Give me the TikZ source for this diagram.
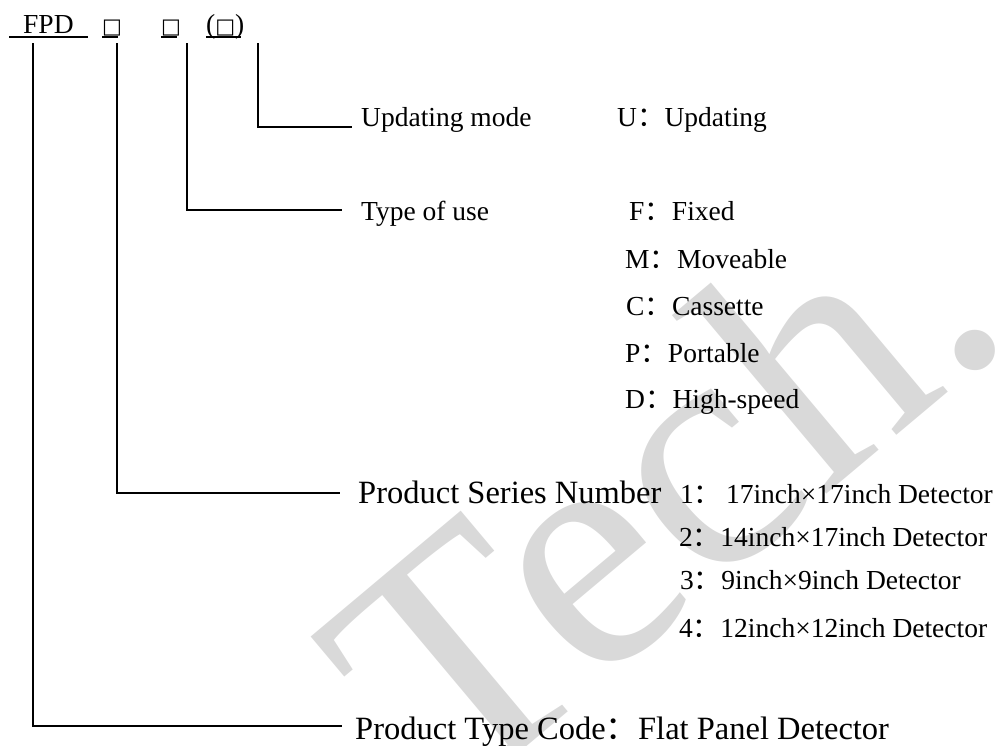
\documentclass[tikz,border=0pt]{standalone}
\usepackage{fontspec}
\setmainfont{Liberation Serif}
\newfontfamily\cjk{Noto Sans CJK SC}
\newfontfamily\symf{DejaVu Sans}
\newcommand{\fc}{{\cjk ：}}
\newcommand{\sqbox}{{\symf\fontsize{21}{22}\selectfont □}}
\tikzset{
  sm/.style={inner sep=0pt, anchor=base west, font=\fontsize{27.5}{30}\selectfont},
  bg/.style={inner sep=0pt, anchor=base west, font=\fontsize{32.5}{36}\selectfont},
  ln/.style={line width=1.8pt},
  ul/.style={line width=1.6pt},
  wm/.style={inner sep=0pt, text=black!15, font=\fontsize{340}{340}\selectfont}
}
\begin{document}
\begin{tikzpicture}[x=1pt,y=-1pt]
\useasboundingbox (0,0) rectangle (1002,745);
% watermark
\begin{scope}
\clip (0,0) rectangle (1002,745);
\node[wm, rotate=40, anchor=base east] (wmk) at (1017,335) {Tech.};
\end{scope}
% header
\node[sm] (fpd) at (23,33) {FPD};
\node[sm] (s1) at (102,33) {\sqbox};
\node[sm] (s2) at (161,33) {\sqbox};
\node[sm] (s3) at (206,33) {(\sqbox)};
\draw[ul] (9,37) -- (88,37);
\draw[ul] (102,37) -- (118,37);
\draw[ul] (161,37) -- (177,37);
\draw[ul] (206,37) -- (241,37);
% line tops and ends
\coordinate (t1) at (33,43);
\coordinate (t2) at (117,43);
\coordinate (t3) at (187,43);
\coordinate (t4) at (258,43);
\coordinate (e1) at (342,726);
\coordinate (e2) at (340,493);
\coordinate (e3) at (342,210);
\coordinate (e4) at (352,127);
\draw[ln] (t1) |- (e1);
\draw[ln] (t2) |- (e2);
\draw[ln] (t3) |- (e3);
\draw[ln] (t4) |- (e4);
% labels
\node[sm] (upd) at (361,126) {Updating mode};
\node[sm] (u) at (617,126) {U\fc Updating};
\node[sm] (use) at (361,220) {Type of use};
\node[sm] (f) at (629,220) {F\fc Fixed};
\node[sm] (m) at (625,268) {M\fc Moveable};
\node[sm] (c) at (626,315) {C\fc Cassette};
\node[sm] (p) at (625,362) {P\fc Portable};
\node[sm] (d) at (625,408) {D\fc High-speed};
\node[bg] (psn) at (358,503) {Product Series Number};
\node[sm] (n1) at (680,503) {1\fc\,17inch×17inch Detector};
\node[sm] (n2) at (679,546) {2\fc 14inch×17inch Detector};
\node[sm] (n3) at (680,589) {3\fc 9inch×9inch Detector};
\node[sm] (n4) at (679,637) {4\fc 12inch×12inch Detector};
\node[bg] (ptc) at (355,739) {Product Type Code\fc Flat Panel Detector};
\end{tikzpicture}
\end{document}
